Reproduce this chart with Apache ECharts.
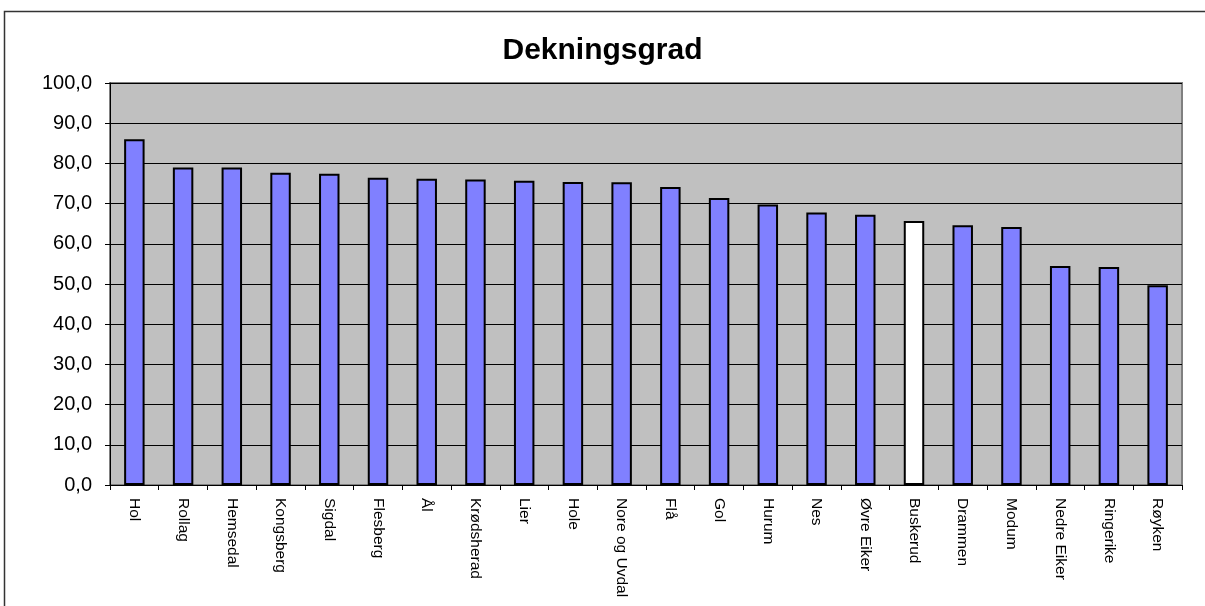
<!DOCTYPE html>
<html>
<head>
<meta charset="utf-8">
<script src="https://cdn.jsdelivr.net/npm/echarts@6/dist/echarts.min.js"></script>
<style>
html,body{margin:0;padding:0;background:#fff;}
#c{width:1205px;height:606px;}
</style>
</head>
<body>
<div id="c"></div>
<script>
const title = 'Dekningsgrad';
const categories = ['Hol','Rollag','Hemsedal','Kongsberg','Sigdal','Flesberg','Ål','Krødsherad','Lier','Hole','Nore og Uvdal','Flå','Gol','Hurum','Nes','Øvre Eiker','Buskerud','Drammen','Modum','Nedre Eiker','Ringerike','Røyken'];
const values = [86.0,79.0,79.0,77.7,77.4,76.4,76.2,76.0,75.7,75.4,75.3,74.1,71.4,69.8,67.8,67.2,65.7,64.6,64.2,54.5,54.2,49.7];
const highlight = 'Buskerud';

const chart = echarts.init(document.getElementById('c'), null, {renderer:'canvas'});
const fontFam = 'Liberation Sans, Arial, sans-serif';
chart.setOption({
  animation:false,
  backgroundColor:'#ffffff',
  title:{
    text:title, left:'center', top:31,
    textStyle:{fontFamily:fontFam, fontWeight:'bold', fontSize:30, color:'#000'}
  },
  graphic:[{
    type:'rect', shape:{x:4.5, y:11.5, width:1220, height:620},
    style:{fill:'none', stroke:'#333', lineWidth:1.5}, silent:true
  }],
  grid:{
    left:110, right:23, top:83, bottom:121,
    show:true, backgroundColor:'#c0c0c0', borderColor:'#808080', borderWidth:2
  },
  xAxis:{
    type:'category', data:categories,
    axisLine:{show:true, lineStyle:{color:'#000', width:1}},
    axisTick:{show:true, interval:0, length:5, lineStyle:{color:'#000'}},
    axisLabel:{interval:0, rotate:-90, margin:13, fontFamily:fontFam, fontSize:15.5, color:'#000'}
  },
  yAxis:{
    type:'value', min:0, max:100, interval:10,
    axisLine:{show:true, lineStyle:{color:'#000', width:1}},
    axisTick:{show:true, length:5, lineStyle:{color:'#000'}},
    splitLine:{show:true, lineStyle:{color:'#000', width:1}},
    axisLabel:{margin:18, fontFamily:fontFam, fontSize:20, color:'#000',
      formatter:v=>v.toFixed(1).replace('.', ',')}
  },
  series:[{
    type:'bar', barWidth:'42%',
    data:categories.map((c,i)=>({value:values[i], itemStyle:{color: c===highlight ? '#ffffff' : '#8080ff'}})),
    itemStyle:{borderColor:'#000', borderWidth:2},
    emphasis:{disabled:true}
  }]
});
</script>
</body>
</html>
